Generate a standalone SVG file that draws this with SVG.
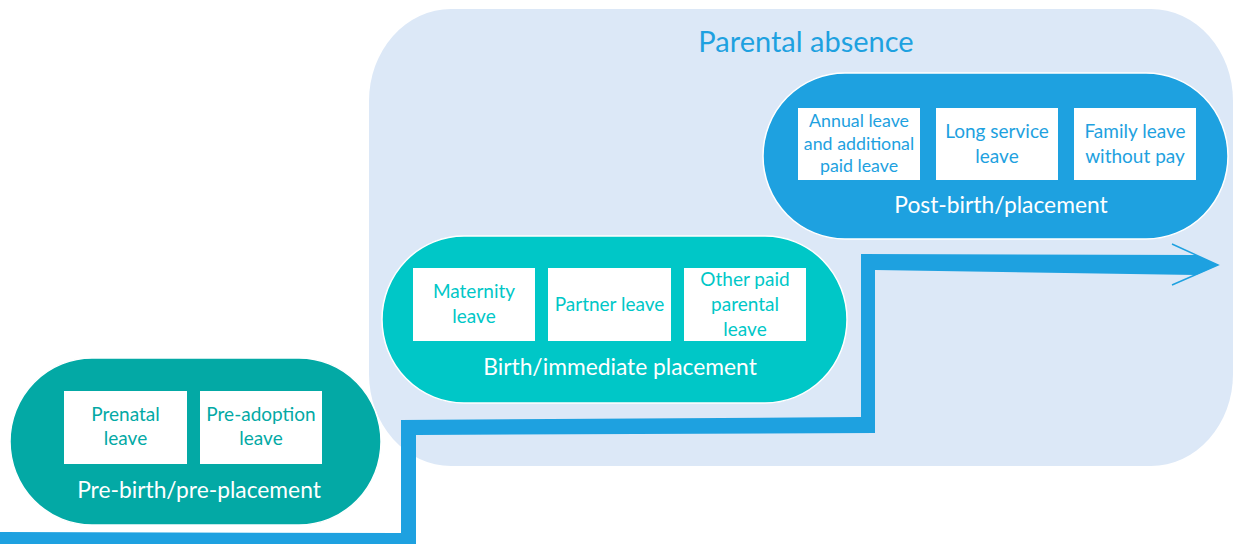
<svg xmlns="http://www.w3.org/2000/svg" width="1234" height="544" viewBox="0 0 1234 544">
<style>
text{font-family:Lato,"Open Sans","Liberation Sans",sans-serif;text-anchor:middle}
.box{fill:#ffffff}
.t{font-size:19px}
.ts{font-size:17.8px}
.lbl{font-size:22.8px;fill:#ffffff}
.pill{stroke:#ffffff;stroke-width:1.5}
.dk{fill:#03A9A5}.tl{fill:#00C7C7}.bl{fill:#1EA1E0}
</style>
<g id="panel">
<rect x="369" y="9" width="864" height="457" rx="82" ry="92" fill="#DCE8F7"/>
<text x="806" y="52" font-size="29" fill="#1EA1E0">Parental absence</text>
</g>
<g id="pre-birth">
<rect class="pill dk" x="10" y="358" width="371" height="167" rx="82" ry="83.5"/>
<rect class="box" x="64" y="391" width="123" height="73"/>
<rect class="box" x="200" y="391" width="122" height="73"/>
<text class="t dk"><tspan x="125.5" y="421">Prenatal</tspan><tspan x="125.5" y="445">leave</tspan></text>
<text class="t dk"><tspan x="261" y="421">Pre-adoption</tspan><tspan x="261" y="445">leave</tspan></text>
<text class="lbl" x="199" y="498">Pre-birth/pre-placement</text>
</g>
<g id="birth">
<rect class="pill tl" x="382" y="236" width="465" height="167" rx="82" ry="83.5"/>
<rect class="box" x="413" y="268" width="122" height="73"/>
<rect class="box" x="548" y="268" width="123" height="73"/>
<rect class="box" x="684" y="268" width="122" height="73"/>
<text class="t tl"><tspan x="474" y="298">Maternity</tspan><tspan x="474" y="323">leave</tspan></text>
<text class="t tl" x="609.5" y="311">Partner leave</text>
<text class="t tl"><tspan x="745" y="286">Other paid</tspan><tspan x="745" y="311">parental</tspan><tspan x="745" y="336">leave</tspan></text>
<text class="lbl" x="620" y="375">Birth/immediate placement</text>
</g>
<g id="post-birth">
<rect class="pill bl" x="763" y="73" width="465" height="166" rx="82" ry="83"/>
<rect class="box" x="798" y="108" width="122" height="72"/>
<rect class="box" x="936" y="108" width="122" height="72"/>
<rect class="box" x="1074" y="108" width="122" height="72"/>
<text class="ts bl"><tspan x="859" y="127">Annual leave</tspan><tspan x="859" y="149.5">and additional</tspan><tspan x="859" y="172">paid leave</tspan></text>
<text class="t bl"><tspan x="997" y="138">Long service</tspan><tspan x="997" y="163">leave</tspan></text>
<text class="t bl"><tspan x="1135" y="138">Family leave</tspan><tspan x="1135" y="163">without pay</tspan></text>
<text class="lbl" x="1001" y="213">Post-birth/placement</text>
</g>
<g id="connectors">
<polygon fill="#1EA1E0" points="0,532 401,533 401,420 861,417 861,254 1196,255 1218,265 1196,275 875,270 875,433 416,435 416,545 0,545"/>
<polyline points="1172,244 1218,265 1172,285" fill="none" stroke="#1EA1E0" stroke-width="1.5"/>
</g>
</svg>
